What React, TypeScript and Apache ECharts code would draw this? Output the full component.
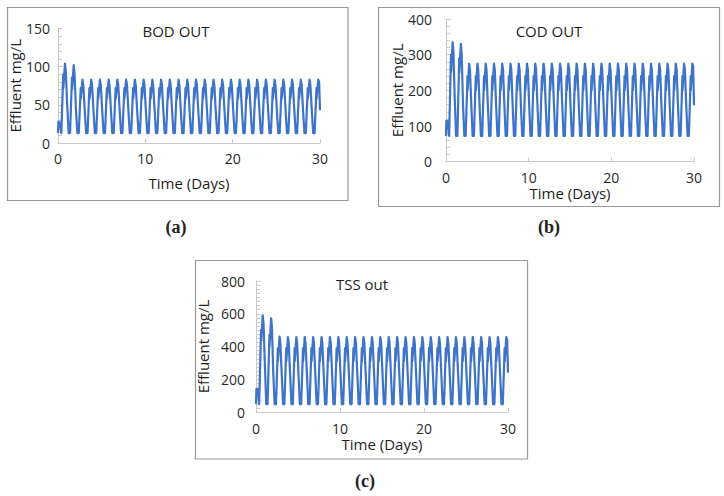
import React, { useEffect, useRef } from "react";
import * as echarts from "echarts";

// Sampling offsets inside each day (fraction of a day)
const OFFSETS = [0.05, 0.22, 0.38, 0.6, 0.61, 0.8, 0.9];
const DAYS = 30;

const X_TICKS = [0, 10, 20, 30];

// BOD OUT (mg/L): start, 30 days x 7 samples, end
const BOD_VALUES = [
  13,
  28, 26, 13, 90, 72, 104, 92,
  50, 13, 13, 86, 70, 102, 90,
  45, 13, 13, 72, 58, 83, 76,
  45, 13, 13, 72, 58, 83, 76,
  45, 13, 13, 72, 58, 83, 76,
  45, 13, 13, 72, 58, 83, 76,
  45, 13, 13, 72, 58, 83, 76,
  45, 13, 13, 72, 58, 83, 76,
  45, 13, 13, 72, 58, 83, 76,
  45, 13, 13, 72, 58, 83, 76,
  45, 13, 13, 72, 58, 83, 76,
  45, 13, 13, 72, 58, 83, 76,
  45, 13, 13, 72, 58, 83, 76,
  45, 13, 13, 72, 58, 83, 76,
  45, 13, 13, 72, 58, 83, 76,
  45, 13, 13, 72, 58, 83, 76,
  45, 13, 13, 72, 58, 83, 76,
  45, 13, 13, 72, 58, 83, 76,
  45, 13, 13, 72, 58, 83, 76,
  45, 13, 13, 72, 58, 83, 76,
  45, 13, 13, 72, 58, 83, 76,
  45, 13, 13, 72, 58, 83, 76,
  45, 13, 13, 72, 58, 83, 76,
  45, 13, 13, 72, 58, 83, 76,
  45, 13, 13, 72, 58, 83, 76,
  45, 13, 13, 72, 58, 83, 76,
  45, 13, 13, 72, 58, 83, 76,
  45, 13, 13, 72, 58, 83, 76,
  45, 13, 13, 72, 58, 83, 76,
  45, 13, 13, 72, 58, 83, 80,
  43,
];

// COD OUT (mg/L)
const COD_VALUES = [
  72,
  115, 112, 72, 300, 250, 335, 310,
  180, 72, 72, 290, 250, 330, 300,
  165, 72, 72, 240, 200, 275, 258,
  165, 72, 72, 240, 200, 275, 258,
  165, 72, 72, 240, 200, 275, 258,
  165, 72, 72, 240, 200, 275, 258,
  165, 72, 72, 240, 200, 275, 258,
  165, 72, 72, 240, 200, 275, 258,
  165, 72, 72, 240, 200, 275, 258,
  165, 72, 72, 240, 200, 275, 258,
  165, 72, 72, 240, 200, 275, 258,
  165, 72, 72, 240, 200, 275, 258,
  165, 72, 72, 240, 200, 275, 258,
  165, 72, 72, 240, 200, 275, 258,
  165, 72, 72, 240, 200, 275, 258,
  165, 72, 72, 240, 200, 275, 258,
  165, 72, 72, 240, 200, 275, 258,
  165, 72, 72, 240, 200, 275, 258,
  165, 72, 72, 240, 200, 275, 258,
  165, 72, 72, 240, 200, 275, 258,
  165, 72, 72, 240, 200, 275, 258,
  165, 72, 72, 240, 200, 275, 258,
  165, 72, 72, 240, 200, 275, 258,
  165, 72, 72, 240, 200, 275, 258,
  165, 72, 72, 240, 200, 275, 258,
  165, 72, 72, 240, 200, 275, 258,
  165, 72, 72, 240, 200, 275, 258,
  165, 72, 72, 240, 200, 275, 258,
  165, 72, 72, 240, 200, 275, 258,
  165, 72, 72, 240, 200, 275, 268,
  158,
];

// TSS out (mg/L)
const TSS_VALUES = [
  48,
  140, 138, 48, 500, 430, 590, 540,
  300, 48, 48, 470, 400, 572, 520,
  245, 48, 48, 390, 310, 460, 420,
  245, 48, 48, 390, 310, 458, 420,
  245, 48, 48, 390, 310, 458, 420,
  245, 48, 48, 390, 310, 458, 420,
  245, 48, 48, 390, 310, 458, 420,
  245, 48, 48, 390, 310, 458, 420,
  245, 48, 48, 390, 310, 458, 420,
  245, 48, 48, 390, 310, 458, 420,
  245, 48, 48, 390, 310, 458, 420,
  245, 48, 48, 390, 310, 458, 420,
  245, 48, 48, 390, 310, 458, 420,
  245, 48, 48, 390, 310, 458, 420,
  245, 48, 48, 390, 310, 458, 420,
  245, 48, 48, 390, 310, 458, 420,
  245, 48, 48, 390, 310, 458, 420,
  245, 48, 48, 390, 310, 458, 420,
  245, 48, 48, 390, 310, 458, 420,
  245, 48, 48, 390, 310, 458, 420,
  245, 48, 48, 390, 310, 458, 420,
  245, 48, 48, 390, 310, 458, 420,
  245, 48, 48, 390, 310, 458, 420,
  245, 48, 48, 390, 310, 458, 420,
  245, 48, 48, 390, 310, 458, 420,
  245, 48, 48, 390, 310, 458, 420,
  245, 48, 48, 390, 310, 458, 420,
  245, 48, 48, 390, 310, 458, 420,
  245, 48, 48, 390, 310, 458, 420,
  245, 48, 48, 390, 310, 458, 440,
  240,
];

const TITLES = ["BOD OUT", "COD OUT", "TSS out"];
const PANEL_LABELS = ["(a)", "(b)", "(c)"];
const Y_MAX = [150, 400, 800];
const Y_INTERVAL = [50, 100, 200];

function buildTime(): number[] {
  const t: number[] = [0];
  for (let d = 0; d < DAYS; d++) {
    for (const o of OFFSETS) t.push(Math.round((d + o) * 1000) / 1000);
  }
  t.push(DAYS);
  return t;
}

export default function App() {
  const ref = useRef<HTMLDivElement>(null);

  useEffect(() => {
    document.body.style.margin = "0";
    if (!ref.current) return;
    const chart = echarts.init(ref.current, undefined, { renderer: "svg" });
    const TIME = buildTime();
    const font = "'Open Sans', 'Liberation Sans', sans-serif";
    const lineColor = "#3d73c8";
    const axisGray = "#c9c9c9";

    const grids = [
      { left: 58, top: 28.5, width: 262, height: 114.5 },
      { left: 446, top: 19, width: 248, height: 142.7 },
      { left: 256, top: 281, width: 252, height: 131 },
    ];
    const xLabelMargin = [8, 9, 9];
    const xNameGap = [32, 22, 24];
    const yLabelMargin = [8, 14, 11];
    const yNameGap = [34, 42, 46];
    const minorSplit = [5, 5, 8];

    const xAxis = grids.map((_, i) => ({
      type: "value",
      gridIndex: i,
      min: X_TICKS[0],
      max: X_TICKS[X_TICKS.length - 1],
      interval: 10,
      name: "Time (Days)",
      nameLocation: "middle",
      nameGap: xNameGap[i],
      nameTextStyle: { fontSize: 15, color: "#1e1e1e", fontFamily: font },
      axisLine: { show: true, lineStyle: { color: axisGray, width: 1 } },
      axisTick: { show: true, inside: true, length: 4, lineStyle: { color: axisGray } },
      axisLabel: { color: "#2a2a2a", fontSize: 14, fontFamily: font, margin: xLabelMargin[i] },
      splitLine: { show: false },
    }));

    const yAxis = grids.map((_, i) => ({
      type: "value",
      gridIndex: i,
      min: 0,
      max: Y_MAX[i],
      interval: Y_INTERVAL[i],
      name: "Effluent mg/L",
      nameLocation: "middle",
      nameRotate: 90,
      nameGap: yNameGap[i],
      nameTextStyle: { fontSize: 15, color: "#1e1e1e", fontFamily: font },
      axisLine: { show: true, lineStyle: { color: axisGray, width: 1 } },
      axisTick: { show: true, inside: true, length: 5, lineStyle: { color: axisGray } },
      minorTick: { show: true, splitNumber: minorSplit[i], length: 4, lineStyle: { color: axisGray } },
      axisLabel: { color: "#2a2a2a", fontSize: 14, fontFamily: font, margin: yLabelMargin[i] },
      splitLine: { show: false },
    }));

    const valueSets = [BOD_VALUES, COD_VALUES, TSS_VALUES];
    const series = valueSets.map((vals, i) => ({
      type: "line",
      name: TITLES[i],
      xAxisIndex: i,
      yAxisIndex: i,
      data: TIME.map((t, k) => [t, vals[k]]),
      showSymbol: false,
      symbol: "none",
      lineStyle: { color: lineColor, width: 2.2, join: "round" },
      clip: true,
    }));

    const titleCenters = [
      [176, 30.5],
      [549, 30.5],
      [362, 284],
    ];
    const title = TITLES.map((t, i) => ({
      text: t,
      left: titleCenters[i][0],
      top: titleCenters[i][1] - 9,
      textAlign: "center",
      padding: 0,
      textStyle: { fontSize: 15, fontWeight: "normal", color: "#1e1e1e", fontFamily: font, lineHeight: 18 },
    }));

    const boxes = [
      [7.5, 7.5, 340.5, 193],
      [378.5, 7.5, 341, 199],
      [195.5, 260.5, 332, 198.5],
    ];
    const labelPos = [
      [176, 227],
      [549, 227],
      [365, 481],
    ];

    const graphic: any[] = [];
    boxes.forEach((b) => {
      graphic.push({
        type: "rect",
        shape: { x: b[0], y: b[1], width: b[2], height: b[3] },
        style: { fill: "none", stroke: "#9a9a9a", lineWidth: 1.2 },
        silent: true,
        z: -1,
      });
    });
    PANEL_LABELS.forEach((l, i) => {
      graphic.push({
        type: "text",
        x: labelPos[i][0],
        y: labelPos[i][1],
        style: {
          text: l,
          fontSize: 18,
          fontWeight: "bold",
          fontFamily: "'Liberation Serif', 'DejaVu Serif', serif",
          fill: "#222",
          align: "center",
          verticalAlign: "middle",
        },
      });
    });

    chart.setOption({
      animation: false,
      backgroundColor: "#ffffff",
      title,
      grid: grids,
      xAxis,
      yAxis,
      series,
      graphic,
    } as any);

    return () => chart.dispose();
  }, []);

  return <div ref={ref} style={{ width: 724, height: 496 }} />;
}
